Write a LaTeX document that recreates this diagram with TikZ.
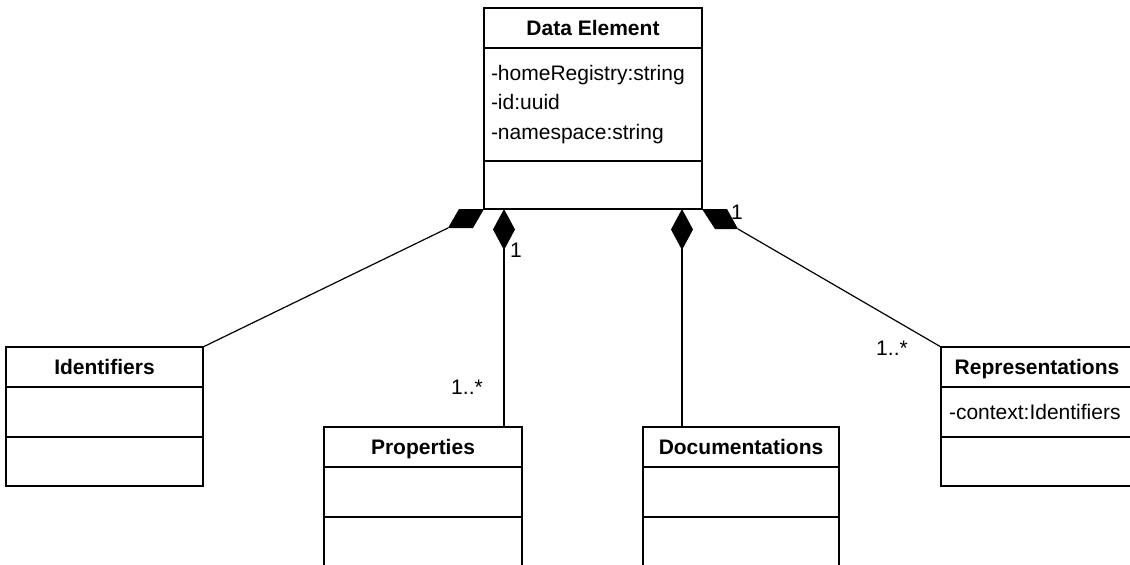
\documentclass[tikz,border=0pt]{standalone}
\usepackage{fontspec}
\setmainfont{Liberation Sans}
\usetikzlibrary{positioning,arrows.meta}

\newcommand{\umlfont}{\fontsize{21pt}{29.5pt}\selectfont}

\tikzset{
  classhead/.style={draw, line width=1.3pt, outer sep=0pt, inner sep=0pt, minimum height=40pt, text height=19pt, text depth=4pt, anchor=north west, font=\umlfont\bfseries},
  classpart/.style={draw, line width=1.3pt, outer sep=0pt, inner xsep=7pt, inner ysep=0pt, minimum height=50pt, align=left, font=\umlfont},
  composed/.style={line width=1.2pt, {Diamond[length=41pt,width=22pt]}-},
  mult/.style={inner sep=0pt, font=\umlfont}
}

\begin{document}
\begin{tikzpicture}[x=1pt,y=-1pt]
\useasboundingbox (0,0) rectangle (1130,565);
\clip (0,0) rectangle (1130,565);
\node[classhead, minimum width=218pt] (dataH) at (484,8) {Data Element};
\node[classpart, below=0pt of dataH, text width=204pt, minimum height=113pt] (dataA) {-homeRegistry:string\\-id:uuid\\-namespace:string};
\node[classpart, below=0pt of dataA, minimum width=218pt, minimum height=48pt] (dataO) {};

\node[classhead, minimum width=197pt] (idH) at (6,347) {Identifiers};
\node[classpart, below=0pt of idH, minimum width=197pt] (idA) {};
\node[classpart, below=0pt of idA, minimum width=197pt, minimum height=49pt] (idO) {};

\node[classhead, minimum width=198pt] (propH) at (324,427) {Properties};
\node[classpart, below=0pt of propH, minimum width=198pt] (propA) {};
\node[classpart, below=0pt of propA, minimum width=198pt] (propO) {};

\node[classhead, minimum width=196pt] (docH) at (643,427) {Documentations};
\node[classpart, below=0pt of docH, minimum width=196pt] (docA) {};
\node[classpart, below=0pt of docA, minimum width=196pt] (docO) {};

\node[classhead, minimum width=192pt] (repH) at (941,347) {Representations};
\node[classpart, below=0pt of repH, inner xsep=8pt, text width=176pt] (repA) {-context:Identifiers};
\node[classpart, below=0pt of repA, minimum width=192pt, minimum height=49pt] (repO) {};

\fill (dataO.south west) -- ++(-25,0) -- ++(-11,19) -- ++(25,0) -- cycle;
\path (dataO.south west) ++(-36,19) coordinate (idTip);
\draw[line width=1.2pt] (idTip) -- (idH.north east);

\fill (dataO.south east) -- ++(25,0) -- ++(11,20) -- ++(-23,0) -- cycle;
\path (dataO.south east) ++(36,20) coordinate (repTip);
\draw[line width=1.2pt] (repTip) -- (repH.north west);

\coordinate (propTop) at ([xshift=-18pt]propH.north east);
\coordinate (docTop) at ([xshift=39pt]docH.north west);
\draw[composed] (propTop |- dataO.south) -- (propTop);
\draw[composed] (docTop |- dataO.south) -- (docTop);

\node[mult] (propOne) at (516,250) {1};
\node[mult] (propMany) at (467,387) {1..*};
\node[mult] (repOne) at (737,212) {1};
\node[mult] (repMany) at (892,348) {1..*};
\end{tikzpicture}
\end{document}
